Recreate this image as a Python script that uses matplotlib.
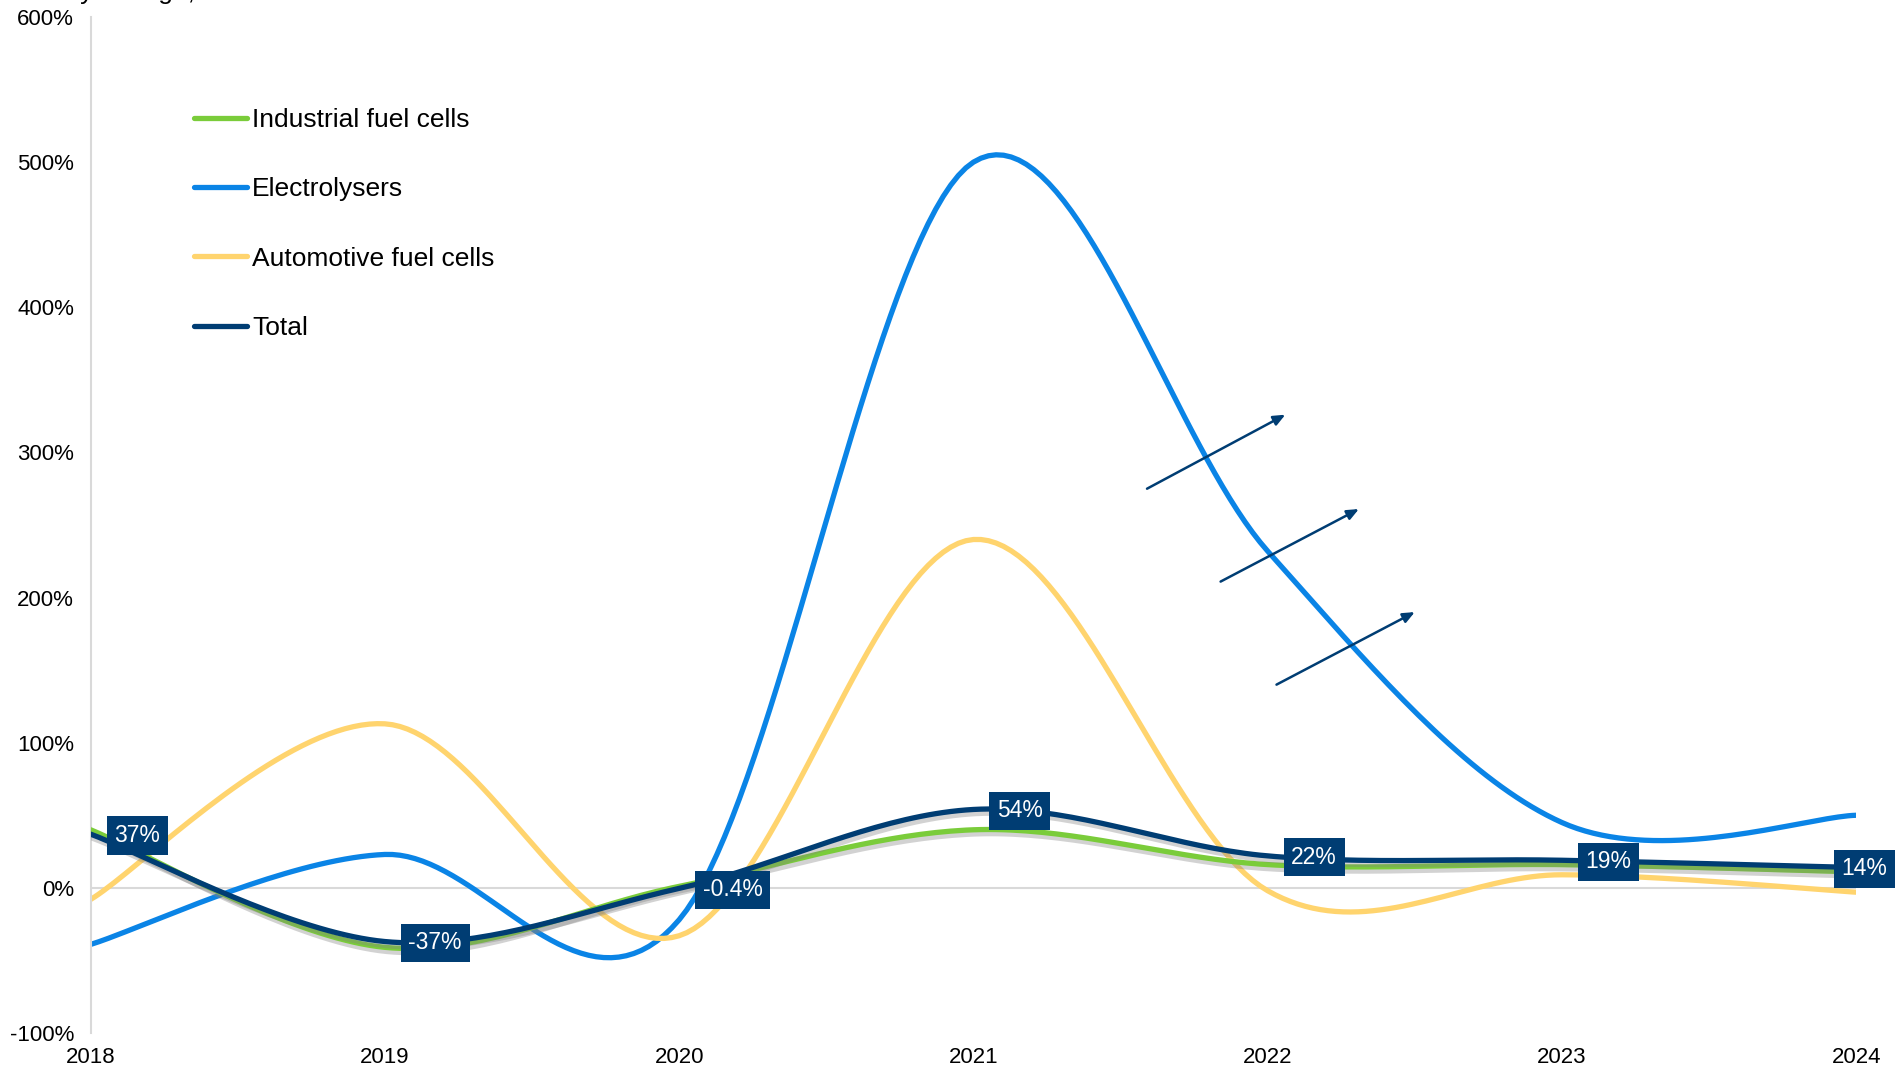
import numpy as np
import matplotlib
matplotlib.use("Agg")
import matplotlib.pyplot as plt
import matplotlib.patheffects as pe
from matplotlib.lines import Line2D

plt.rcParams['font.family'] = ['Liberation Sans', 'DejaVu Sans']

years = [2018, 2019, 2020, 2021, 2022, 2023, 2024]
industrial = [40, -41, 1, 40, 16, 16, 11]
electrolysers = [-39, 23, -22, 500, 232, 45, 50]
automotive = [-8, 113, -33, 240, -2, 9, -3]
total = [37, -37, -0.4, 54, 22, 19, 14]
total_labels = ['37%', '-37%', '-0.4%', '54%', '22%', '19%', '14%']

series_names = ['Industrial fuel cells', 'Electrolysers', 'Automotive fuel cells', 'Total']
colors = ['#7ACC3A', '#0A84E6', '#FFD46E', '#003D73']

# annotation arrows (x0, y0, x1, y1) in data units
arrows = [(2021.59, 275, 2022.06, 326),
          (2021.84, 211, 2022.31, 261),
          (2022.03, 140, 2022.50, 190)]


def smooth(x, y, n=40):
    # excel-like bezier smoothing
    x = np.asarray(x, float)
    y = np.asarray(y, float)
    pts = np.column_stack([x, y])
    out = []
    for i in range(len(pts) - 1):
        p0 = pts[i - 1] if i > 0 else pts[i]
        p1 = pts[i]
        p2 = pts[i + 1]
        p3 = pts[i + 2] if i + 2 < len(pts) else pts[i + 1]
        c1 = p1 + (p2 - p0) / 6
        c2 = p2 - (p3 - p1) / 6
        t = np.linspace(0, 1, n)[:, None]
        seg = (1 - t)**3 * p1 + 3 * (1 - t)**2 * t * c1 + 3 * (1 - t) * t**2 * c2 + t**3 * p2
        out.append(seg if i == 0 else seg[1:])
    out = np.vstack(out)
    return out[:, 0], out[:, 1]


fig = plt.figure(figsize=(18.96, 10.69), dpi=100)
ax = fig.add_axes([0.0478, 0.0337, 0.9312, 0.9504])

ax.axhline(0, color='#d9d9d9', lw=1.5, zorder=1)

data = [industrial, electrolysers, automotive, total]
shadow = [True, False, False, True]
zs = [3, 2, 2, 4]
for name, vals, c, sh, z in zip(series_names, data, colors, shadow, zs):
    sx, sy = smooth(years, vals)
    kw = {}
    if sh:
        kw['path_effects'] = [pe.SimpleLineShadow(offset=(1.5, -3), shadow_color='#808080', alpha=0.35),
                              pe.Normal()]
    ax.plot(sx, sy, color=c, lw=3.8, solid_capstyle='round', zorder=z, **kw)

# data labels on total
for i, (x, v, lab) in enumerate(zip(years, total, total_labels)):
    off = -10.5 if i == len(years) - 1 else 17
    ax.annotate(lab, (x, v), xytext=(off, -1), textcoords='offset points',
                ha='left', va='center', color='white', fontsize=16.5, zorder=6,
                bbox=dict(boxstyle='square,pad=0.33', fc='#003D73', ec='none'),
                annotation_clip=False)

for x0, y0, x1, y1 in arrows:
    ax.annotate('', xy=(x1, y1), xytext=(x0, y0), zorder=5,
                arrowprops=dict(arrowstyle='-|>,head_length=0.7,head_width=0.3',
                                color='#003D73', lw=1.8, shrinkA=0, shrinkB=0))

ax.set_xlim(2018, 2024)
ax.set_ylim(-100, 600)
ax.set_yticks(np.arange(-100, 601, 100))
ax.set_yticklabels([f'{v}%' for v in range(-100, 601, 100)])
ax.set_xticks(years)
ax.set_xticklabels([str(y) for y in years])

for s in ['top', 'right', 'bottom']:
    ax.spines[s].set_visible(False)
ax.spines['left'].set_color('#d9d9d9')
ax.spines['left'].set_linewidth(1.5)
ax.tick_params(axis='y', length=0, labelsize=16, pad=12)
ax.tick_params(axis='x', length=0, labelsize=16, pad=10)
ax.set_yticks([-100, 600], minor=True)
ax.tick_params(axis='y', which='minor', length=6, color='#d9d9d9', width=1.5)

handles = [Line2D([], [], color=c, lw=3.8, solid_capstyle='round') for c in colors]
ax.legend(handles, series_names, loc='upper left', bbox_to_anchor=(0.045, 0.934), frameon=False,
          fontsize=19, handlelength=2.0, handletextpad=0.2, labelspacing=1.72)

fig.text(0.011, 1 + 1 / 1069, 'Yearly change, %', fontsize=19, va='baseline', ha='left')

fig.savefig('out.png', dpi=100)
